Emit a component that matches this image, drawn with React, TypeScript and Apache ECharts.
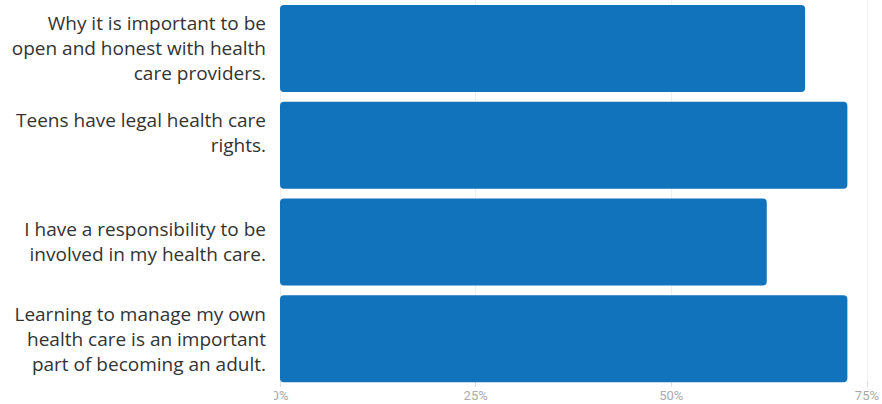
import React, { useEffect, useRef } from "react";
import * as echarts from "echarts";

const categories = [
  "Why it is important to be open and honest with health care providers.",
  "Teens have legal health care rights.",
  "I have a responsibility to be involved in my health care.",
  "Learning to manage my own health care is an important part of becoming an adult.",
];
const categoryLabels = [
  "Why it is important to be\nopen and honest with health\ncare providers.",
  "Teens have legal health care\nrights.\n ",
  "I have a responsibility to be\ninvolved in my health care.",
  "Learning to manage my own\nhealth care is an important\npart of becoming an adult.",
];
const values = [67.1, 72.5, 62.2, 72.5];
const xTicks = [0, 25, 50, 75];

export default function App() {
  const ref = useRef<HTMLDivElement>(null);
  useEffect(() => {
    const chart = echarts.init(ref.current!, null, { renderer: "svg" });
    chart.setOption({
      animation: false,
      grid: { left: 280, right: 12, top: -2, bottom: 17, containLabel: false },
      xAxis: {
        type: "value",
        min: xTicks[0],
        max: xTicks[xTicks.length - 1],
        interval: 25,
        axisLine: { show: false },
        axisTick: { show: true, length: 6, inside: true, lineStyle: { color: "#ddd" } },
        splitLine: { show: true, lineStyle: { color: "#efefef", width: 1 } },
        axisLabel: {
          formatter: (v: number) => v + "%",
          color: "#aaa",
          fontSize: 13,
          margin: 2,
          fontFamily: "Roboto",
        },
      },
      yAxis: {
        type: "category",
        inverse: true,
        data: categories,
        axisLine: { show: false },
        axisTick: { show: false },
        axisLabel: {
          formatter: (_v: string, i: number) => categoryLabels[i],
          color: "#333",
          fontSize: 19,
          lineHeight: 25,
          margin: 14,
          align: "right",
          fontFamily: "Open Sans",
        },
      },
      graphic: [
        {
          type: "rect",
          left: 0,
          top: 388,
          z: 100,
          shape: { width: 274, height: 16 },
          style: { fill: "#fff" },
        },
      ],
      series: [
        {
          type: "bar",
          data: values,
          barWidth: 87,
          itemStyle: { color: "#1273bd", borderRadius: 4 },
        },
      ],
    });
    return () => chart.dispose();
  }, []);
  return <div ref={ref} style={{ width: 882, height: 404, position: "absolute", left: 0, top: 0 }} />;
}
